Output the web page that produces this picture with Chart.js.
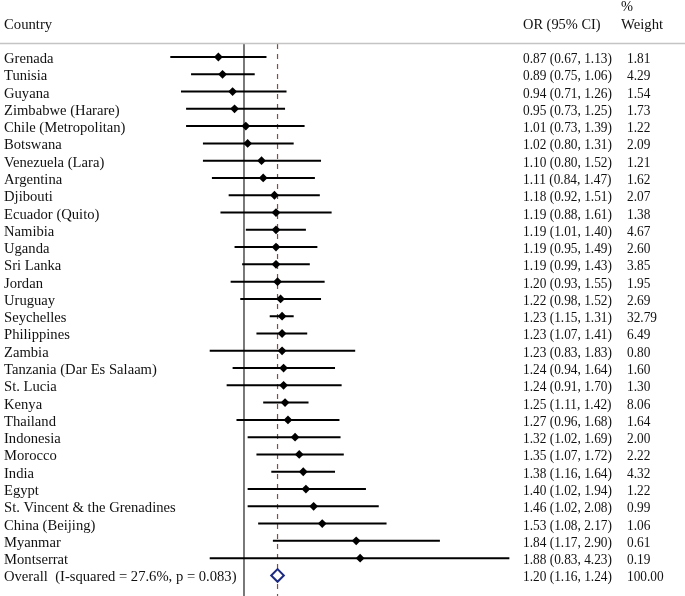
<!DOCTYPE html>
<html>
<head>
<meta charset="utf-8">
<script src="https://cdn.jsdelivr.net/npm/chart.js@4/dist/chart.umd.min.js"></script>
<style>
  html, body { margin: 0; padding: 0; background: #fff; overflow: hidden; }
  #wrap { width: 685px; height: 596px; position: relative; }
</style>
</head>
<body>
<div id="wrap"><canvas id="c"></canvas></div>
<script>
const countries = ["Grenada","Tunisia","Guyana","Zimbabwe (Harare)","Chile (Metropolitan)","Botswana","Venezuela (Lara)","Argentina","Djibouti","Ecuador (Quito)","Namibia","Uganda","Sri Lanka","Jordan","Uruguay","Seychelles","Philippines","Zambia","Tanzania (Dar Es Salaam)","St. Lucia","Kenya","Thailand","Indonesia","Morocco","India","Egypt","St. Vincent & the Grenadines","China (Beijing)","Myanmar","Montserrat"];
const orValues = [0.87,0.89,0.94,0.95,1.01,1.02,1.10,1.11,1.18,1.19,1.19,1.19,1.19,1.20,1.22,1.23,1.23,1.23,1.24,1.24,1.25,1.27,1.32,1.35,1.38,1.40,1.46,1.53,1.84,1.88];
const lowerCI = [0.67,0.75,0.71,0.73,0.73,0.80,0.80,0.84,0.92,0.88,1.01,0.95,0.99,0.93,0.98,1.15,1.07,0.83,0.94,0.91,1.11,0.96,1.02,1.07,1.16,1.02,1.02,1.08,1.17,0.83];
const upperCI = [1.13,1.06,1.26,1.25,1.39,1.31,1.52,1.47,1.51,1.61,1.40,1.49,1.43,1.55,1.52,1.31,1.41,1.83,1.64,1.70,1.42,1.68,1.69,1.72,1.64,1.94,2.08,2.17,2.90,4.23];
const weights = ["1.81","4.29","1.54","1.73","1.22","2.09","1.21","1.62","2.07","1.38","4.67","2.60","3.85","1.95","2.69","32.79","6.49","0.80","1.60","1.30","8.06","1.64","2.00","2.22","4.32","1.22","0.99","1.06","0.61","0.19"];
const overallLabel = "Overall  (I-squared = 27.6%, p = 0.083)";
const overallOR = 1.20, overallLo = 1.16, overallHi = 1.24, overallWeight = "100.00";
const nullValue = 1;

const fmt = v => v.toFixed(2);
const n = countries.length;
const yMin = -0.752, yMax = 31.19;

const ciData = [];
for (let i = 0; i < n; i++) {
  ciData.push({x: lowerCI[i], y: i}, {x: upperCI[i], y: i}, {x: null, y: null});
}
const pointData = orValues.map((v, i) => ({x: v, y: i}));

const FONT = '15px "Liberation Serif", "Times New Roman", serif';

function scaledText(ctx, text, x, y, sx) {
  ctx.save();
  ctx.translate(x, y);
  ctx.scale(sx, 1);
  ctx.fillText(text, 0, 0);
  ctx.restore();
}

const textPlugin = {
  id: 'forestText',
  afterDraw(chart) {
    const ctx = chart.ctx;
    const ys = chart.scales.y;
    ctx.save();
    ctx.strokeStyle = '#c4c4c4';
    ctx.lineWidth = 1.5;
    ctx.beginPath();
    ctx.moveTo(0, 43.5);
    ctx.lineTo(685, 43.5);
    ctx.stroke();

    ctx.fillStyle = '#111';
    ctx.font = FONT;
    ctx.textBaseline = 'alphabetic';
    ctx.textAlign = 'left';
    scaledText(ctx, 'Country', 4, 29, 0.98);
    scaledText(ctx, 'OR (95% CI)', 523, 29, 0.96);
    scaledText(ctx, '%', 621, 11, 0.96);
    scaledText(ctx, 'Weight', 621, 29, 0.98);

    for (let i = 0; i < n; i++) {
      const y = ys.getPixelForValue(i) + 6;
      scaledText(ctx, countries[i], 4, y, 0.975);
      scaledText(ctx, fmt(orValues[i]) + ' (' + fmt(lowerCI[i]) + ', ' + fmt(upperCI[i]) + ')', 523, y, 0.89);
      scaledText(ctx, weights[i], 627, y, 0.89);
    }
    const yo = ys.getPixelForValue(n) + 6;
    scaledText(ctx, overallLabel, 4, yo, 0.975);
    scaledText(ctx, fmt(overallOR) + ' (' + fmt(overallLo) + ', ' + fmt(overallHi) + ')', 523, yo, 0.89);
    scaledText(ctx, overallWeight, 627, yo, 0.89);
    ctx.restore();
  }
};

new Chart(document.getElementById('c'), {
  type: 'scatter',
  data: {
    datasets: [
      {
        label: 'null line',
        data: [{x: nullValue, y: yMin}, {x: nullValue, y: yMax}],
        showLine: true,
        clip: false,
        borderColor: '#222',
        borderWidth: 1.2,
        pointRadius: 0,
        order: 5
      },
      {
        label: 'overall line',
        data: [{x: overallOR, y: yMin}, {x: overallOR, y: yMax}],
        showLine: true,
        clip: false,
        borderColor: '#8a4a4a',
        borderWidth: 1.2,
        borderDash: [5, 5],
        pointRadius: 0,
        order: 4
      },
      {
        label: 'CI',
        data: ciData,
        showLine: true,
        spanGaps: false,
        borderColor: '#000',
        borderWidth: 2,
        pointRadius: 0,
        order: 3
      },
      {
        label: 'OR',
        data: pointData,
        pointStyle: 'rectRot',
        pointRadius: 4.4,
        backgroundColor: '#000',
        borderColor: '#000',
        borderWidth: 0,
        order: 1
      },
      {
        label: 'Overall',
        data: [{x: overallOR, y: n}],
        pointStyle: 'rectRot',
        pointRadius: 6.3,
        backgroundColor: '#fff',
        borderColor: '#1c2a80',
        borderWidth: 2,
        order: 0
      }
    ]
  },
  options: {
    responsive: true,
    maintainAspectRatio: false,
    animation: false,
    events: [],
    layout: { autoPadding: false, padding: { left: 150, right: 165, top: 44, bottom: 0 } },
    plugins: { legend: { display: false }, tooltip: { enabled: false } },
    scales: {
      x: {
        type: 'logarithmic',
        min: 0.6,
        max: Math.exp(1.5),
        bounds: 'data',
        display: false
      },
      y: {
        type: 'linear',
        min: yMin,
        max: yMax,
        reverse: true,
        display: false
      }
    }
  },
  plugins: [textPlugin]
});
</script>
</body>
</html>
